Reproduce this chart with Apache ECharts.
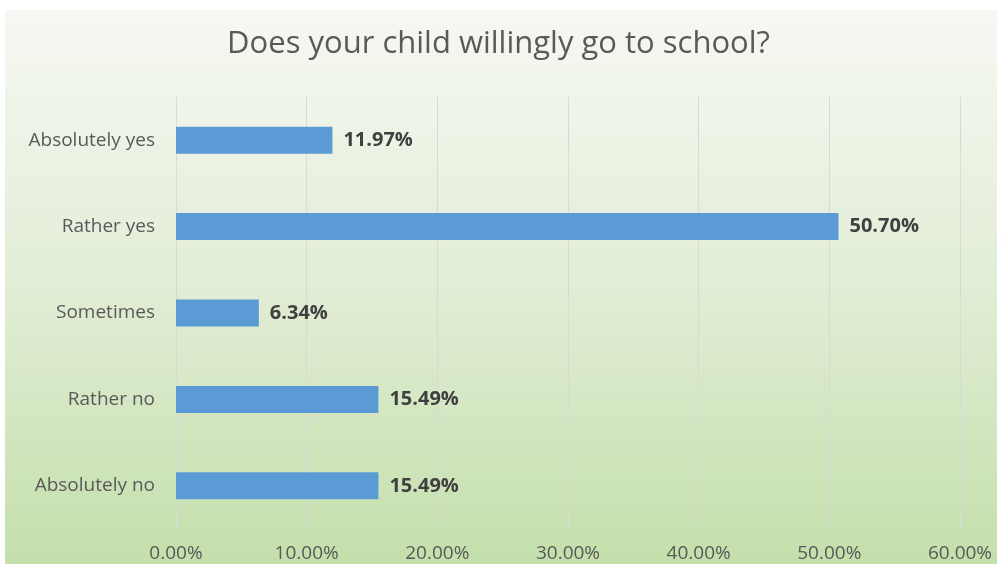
<!DOCTYPE html>
<html><head><meta charset="utf-8">
<script src="https://cdn.jsdelivr.net/npm/echarts@6/dist/echarts.min.js"></script>
<style>html,body{margin:0;padding:0;background:#fff}#c{width:997px;height:564px}</style>
</head><body><div id="c"></div>
<script>
const categories = ["Absolutely yes","Rather yes","Sometimes","Rather no","Absolutely no"];
const values = [11.97, 50.70, 6.34, 15.49, 15.49];
const xTicks = [0,10,20,30,40,50,60];
const titleText = "Does your child willingly go to school?";

const chart = echarts.init(document.getElementById('c'));
const font = '"Open Sans", sans-serif';
chart.setOption({
  backgroundColor: '#ffffff',
  animation: false,
  graphic: [{
    type: 'rect', z: -10, silent: true,
    shape: {x: 5, y: 10, width: 992, height: 554},
    style: {fill: new echarts.graphic.LinearGradient(0,0,0,1,[
      {offset:0, color:'#f6f8f3'},{offset:0.5,color:'#e1edd5'},{offset:1,color:'#c4dfab'}])}
  }],
  title: {
    text: titleText, left: 'center', top: 24,
    textStyle: {fontFamily: font, fontSize: 31, fontWeight: 'normal', color: '#595959'}
  },
  grid: {left: 176, right: 37, top: 97, bottom: 35, containLabel: false},
  xAxis: {
    type: 'value', min: xTicks[0], max: xTicks[xTicks.length-1], interval: 10,
    axisLine: {show: false}, axisTick: {show: false},
    splitLine: {show: true, lineStyle: {color: '#d9d9d9', width: 1}},
    axisLabel: {margin: 15, fontFamily: font, fontSize: 19, color: '#595959',
      formatter: v => v.toFixed(2) + '%'}
  },
  yAxis: {
    type: 'category', data: categories, inverse: true,
    axisLine: {show: false}, axisTick: {show: false},
    axisLabel: {margin: 21, fontFamily: font, fontSize: 19, color: '#595959'}
  },
  series: [{
    type: 'bar', data: values, barWidth: 27,
    itemStyle: {color: '#5b9bd5'},
    label: {show: true, position: 'right', distance: 11,
      fontFamily: font, fontSize: 20, fontWeight: 'bold', color: '#404040',
      formatter: p => p.value.toFixed(2) + '%'}
  }]
});
</script></body></html>
